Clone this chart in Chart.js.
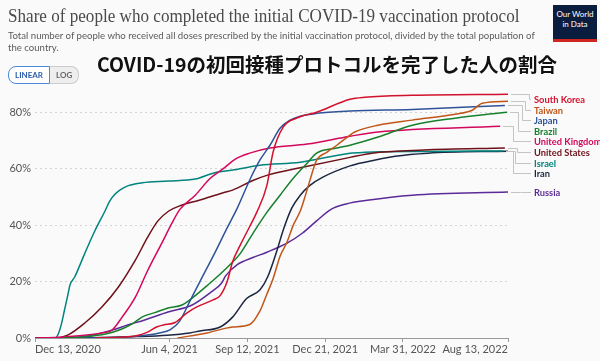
<!DOCTYPE html>
<html>
<head>
<meta charset="utf-8">
<script src="https://cdn.jsdelivr.net/npm/chart.js@4.4.1/dist/chart.umd.min.js"></script>
<style>
  body{margin:0;width:600px;height:361px;overflow:hidden;position:relative;background:#fafafa;font-family:Lato,sans-serif}
  #vaxChart{position:absolute;left:0;top:0}
  .title{position:absolute;left:8px;top:5px;font-family:"Liberation Serif",serif;font-size:19px;color:#4a4a4a;white-space:nowrap;
         transform:scaleX(0.9);transform-origin:left top}
  .subtitle{position:absolute;left:8px;top:30px;width:530px;font-size:9.6px;line-height:12px;color:#5b5b5b}
  .jp{position:absolute;left:97px;top:49px;font-family:"Noto Sans CJK JP",sans-serif;font-weight:bold;font-size:19.5px;color:#111;white-space:nowrap;
      text-shadow:0 0 2px #fff,0 0 2px #fff}
  .toggle{position:absolute;left:8px;top:66px;display:flex;font-size:8px;font-weight:bold}
  .toggle span{display:block;padding:3px 6px;border:1px solid #ccc}
  .toggle .on{color:#2a5ca8;border:1.5px solid #4a8ad8;border-radius:8px 0 0 8px;background:#fff}
  .toggle .off{color:#666;background:#eee;border-radius:0 8px 8px 0;border-left:none}
  .logo{position:absolute;left:553px;top:5px;width:44px;height:30px;background:#0b1d3e;border-bottom:3px solid #ce261e;
        color:#fff;font-size:8px;line-height:10px;text-align:center;padding-top:4px;box-sizing:content-box}
</style>
</head>
<body>
<canvas id="vaxChart" width="600" height="361"></canvas>
<div class="title">Share of people who completed the initial COVID-19 vaccination protocol</div>
<div class="subtitle">Total number of people who received all doses prescribed by the initial vaccination protocol, divided by the total population of the country.</div>
<div class="jp">COVID-19の初回接種プロトコルを完了した人の割合</div>
<div class="toggle"><span class="on">LINEAR</span><span class="off">LOG</span></div>
<div class="logo">Our World<br>in Data</div>
<script>
/* ---- data: x = days since Dec 13, 2020, y = % fully vaccinated ---- */
const countries = ["South Korea","Taiwan","Japan","Brazil","United Kingdom","United States","Israel","Iran","Russia"];
const colors = ["#d3112d","#c0561a","#2f5399","#17802c","#d3075c","#6e1119","#00847e","#1c2642","#5b2b98"];

const koreaDays = [77,110,130,144,157,165,180,195,208,229,238,247,254,264,276,285,298,306,319,337,362,405,424,485,608];
const koreaVals = [0,0.3,0.8,2,4,4.6,5.5,8.8,11,13.5,15,20,27,33,39.5,44.5,54,65.8,74.7,78,80,84.6,85.3,86,86.4];

const taiwanDays = [183,221,254,276,289,298,306,315,324,332,341,347,353,362,375,388,405,411,441,485,540,562,575,608];
const taiwanVals = [0,1.8,3.9,4.8,9.5,15.5,21,29,34,40,45,50,55.5,63,65.8,68.3,71.9,73,75.4,77.2,79.3,80.7,83.2,83.9];

const japanDays = [65,110,130,160,174,186,199,212,229,247,260,276,289,302,315,328,341,362,405,485,604];
const japanVals = [0,0.3,0.6,1.8,3,6,13,20,29,39,46,56,63,68.3,74.3,77.2,78.6,79.6,80.4,81,82.4];

const brazilDays = [36,60,92,110,125,138,154,171,189,199,221,247,264,280,298,315,332,350,362,388,405,441,485,540,607];
const brazilVals = [0,0.3,1.5,3,5,7.5,9,10.6,11.7,13.5,18.5,25,30,37,44.5,50.6,56.6,62,65.5,67.3,68.3,71.2,75.4,77.9,80];

const ukDays = [0,30,64,86,99,112,129,145,163,176,186,206,225,242,258,276,302,350,405,441,598];
const ukVals = [0,0.3,1,1.8,2.8,7.4,14.5,24,33.6,40.7,45.5,50.6,56.5,60,63.5,65.5,67.3,68.7,71.5,73,75];

const usDays = [0,26,42,64,86,107,129,145,158,172,186,212,242,254,280,300,341,405,433,500,604];
const usVals = [0,0,1,5.3,11,18,27.6,35.8,41.5,45,46.8,48.9,51.5,52.4,55.8,57.8,60.3,64,65.5,66.6,67.3];

const israelDays = [0,26,30,34,38,42,45,51,64,77,90,96,103,110,120,138,171,206,229,254,289,341,405,424,500,602];
const israelVals = [0,0,1.5,5,10,15,18.8,21.6,30,38,45,48.5,51,52.6,54,55,55.6,56.3,58.4,59.5,61.2,62.3,65.5,65.8,66.1,66.3];

const iranDays = [60,130,170,199,212,238,254,272,289,299,311,319,330,341,353,370,405,424,463,505,608];
const iranVals = [0,0.5,1,1.8,2.5,3.9,7.4,14,17,21.6,31,38.2,46,50.6,54,57,61,62.3,64.4,65.5,66.2];

const russiaDays = [20,40,64,99,119,141,171,202,225,240,245,260,280,298,324,344,362,380,400,427,485,608];
const russiaVals = [0,0.1,0.5,2.8,4.6,6.4,9.2,11.7,16,19.5,22,26,28.5,30.4,33.6,37.2,41.5,45.5,47.5,48.8,50.6,51.7];

const tickDays = [0,173,273,373,473,608];
const tickLabels = ["Dec 13, 2020","Jun 4, 2021","Sep 12, 2021","Dec 21, 2021","Mar 31, 2022","Aug 13, 2022"];
const yTicks = [0,20,40,60,80];

const allDays = [koreaDays,taiwanDays,japanDays,brazilDays,ukDays,usDays,israelDays,iranDays,russiaDays];
const allVals = [koreaVals,taiwanVals,japanVals,brazilVals,ukVals,usVals,israelVals,iranVals,russiaVals];

/* label placement on the right (layout only) */
const labelY = [99,110,120,131,141,152,163,173,192];
const elbowX = [529,525,522,518,513,517,515,513,520];

const endLabels = {
  id:'endLabels',
  afterDatasetsDraw(chart){
    const {ctx, scales:{x,y}} = chart;
    ctx.save();
    chart.data.datasets.forEach((ds,i)=>{
      const last = ds.data[ds.data.length-1];
      const x0 = Math.round(x.getPixelForValue(last.x)) + 3;
      const y0 = Math.round(y.getPixelForValue(last.y)) + 0.5;
      const ly = labelY[i] + 0.5, ex = elbowX[i] + 0.5;
      ctx.strokeStyle = "#c4c4c4";
      ctx.lineWidth = 1;
      ctx.beginPath();
      ctx.moveTo(x0, y0);
      ctx.lineTo(ex, y0);
      ctx.lineTo(ex, ly);
      ctx.lineTo(531, ly);
      ctx.stroke();
      ctx.fillStyle = ds.borderColor;
      ctx.font = "bold 9.3px Lato";
      ctx.textBaseline = "middle";
      ctx.textAlign = "left";
      ctx.fillText(ds.label, 534, labelY[i] + 0.5);
    });
    ctx.restore();
  }
};

const datasets = countries.map((name,i)=>({
  label:name,
  data:allDays[i].map((d,k)=>({x:d, y:allVals[i][k]})),
  borderColor:colors[i],
  backgroundColor:colors[i],
  borderWidth:1.5,
  pointRadius:0,
  cubicInterpolationMode:'monotone',
  fill:false
}));

new Chart(document.getElementById("vaxChart"),{
  type:'line',
  data:{datasets},
  options:{
    responsive:false,
    animation:false,
    layout:{padding:{left:0,right:92,top:84,bottom:0}},
    plugins:{legend:{display:false},tooltip:{enabled:false}},
    scales:{
      x:{
        type:'linear', min:0, max:608,
        afterBuildTicks: s => { s.ticks = tickDays.map(v=>({value:v})); },
        afterFit: s => { s.height = 23; },
        grid:{display:true, drawOnChartArea:false, drawTicks:true, tickLength:4, color:"#999"},
        border:{display:true, color:"#999"},
        ticks:{
          align:'inner', padding:1, maxRotation:0, autoSkip:false,
          color:"#555", font:{family:"Lato", size:11},
          callback:(v)=> tickLabels[tickDays.indexOf(v)]
        }
      },
      y:{
        min:0, max:90,
        afterBuildTicks: s => { s.ticks = yTicks.map(v=>({value:v})); },
        afterFit: s => { s.width = 35; },
        grid:{drawTicks:false, color:(c)=> c.tick && c.tick.value === 0 ? "rgba(0,0,0,0)" : "#d4d4d4"},
        border:{display:false, dash:[2,3]},
        ticks:{padding:4, color:"#555", font:{family:"Lato", size:11}, callback:v=> v + "%"}
      }
    }
  },
  plugins:[endLabels]
});
</script>
</body>
</html>
